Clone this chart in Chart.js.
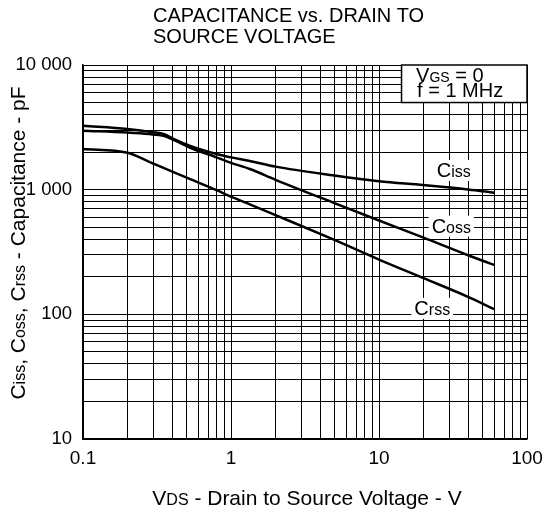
<!DOCTYPE html>
<html><head><meta charset="utf-8">
<script src="https://cdn.jsdelivr.net/npm/chart.js@4/dist/chart.umd.min.js"></script>
<style>html,body{margin:0;padding:0;background:#fff}</style>
</head><body>
<canvas id="c" width="547" height="514"></canvas>
<script>
// Drain-to-source voltage (V) sample points
const vds  = [0.1, 0.2, 0.28, 0.35, 0.42, 0.53, 0.8, 1, 1.34, 2, 5, 10, 20, 40, 60];
// Capacitances (pF)
const ciss = [3260, 3070, 2917, 2800, 2520, 2245, 1930, 1815, 1700, 1530, 1300, 1170, 1090, 1005, 946];
const coss = [2970, 2870, 2790, 2700, 2470, 2170, 1815, 1640, 1465, 1200, 780, 566, 412, 298, 249];
const crss = [2120, 1980, 1673, 1497, 1366, 1216, 990, 880, 762, 625, 395, 275, 195, 138, 110];
// Axis labels
const xMajor = [0.1, 1, 10, 100];
const xTickLabels = ['0.1', '1', '10', '100'];
const yMajor = [10, 100, 1000, 10000];
const yTickLabels = ['10', '100', '1 000', '10 000'];
const seriesNames = ['Ciss', 'Coss', 'Crss'];

const FONT = '"Liberation Sans", Arial, sans-serif';

function toXY(xs, ys) { return xs.map((x, i) => ({ x: x, y: ys[i] })); }
function decadeTicks(min, max) {
  const out = [];
  for (let d = min; d < max * 0.999; d *= 10) {
    for (let k = 1; k <= 9; k++) out.push({ value: parseFloat((k * d).toPrecision(6)) });
  }
  out.push({ value: max });
  return out;
}
function labelFor(v, majors, labels) {
  const i = majors.findIndex(m => Math.abs(m - v) / m < 1e-6);
  return i >= 0 ? labels[i] : '';
}
function richWidth(ctx, parts) {
  let w = 0;
  for (const [t, s] of parts) { ctx.font = s + 'px ' + FONT; w += ctx.measureText(t).width; }
  return w;
}
function drawRich(ctx, parts, x, y, align) {
  const w = richWidth(ctx, parts);
  let cx = align === 'center' ? x - w / 2 : (align === 'right' ? x - w : x);
  ctx.textAlign = 'left';
  ctx.textBaseline = 'alphabetic';
  for (const [t, s] of parts) {
    ctx.font = s + 'px ' + FONT;
    ctx.fillText(t, cx, y);
    cx += ctx.measureText(t).width;
  }
  return w;
}

const curveLabels = [
  { parts: [['C', 20], ['iss', 16]], v: 32, c: 1265 },
  { parts: [['C', 20], ['oss', 16]], v: 30.8, c: 452 },
  { parts: [['C', 20], ['rss', 16]], v: 22.9, c: 99 }
];

const annot = {
  id: 'annot',
  beforeDatasetsDraw(chart) {
    const { ctx, chartArea: a, scales: { x, y } } = chart;
    ctx.save();
    const bl = x.getPixelForValue(14.2), bb = y.getPixelForValue(5000);
    ctx.fillStyle = '#fff';
    ctx.fillRect(bl, a.top, a.right - bl, bb - a.top);
    ctx.strokeStyle = '#000';
    ctx.lineWidth = 1.5;
    ctx.strokeRect(bl, a.top, a.right - bl, bb - a.top);
    for (const L of curveLabels) {
      const w = richWidth(ctx, L.parts);
      const cx = x.getPixelForValue(L.v), by = y.getPixelForValue(L.c);
      ctx.fillStyle = '#fff';
      ctx.fillRect(cx - w / 2 - 3, by - 17, w + 6, 21);
    }
    ctx.restore();
  },
  afterDatasetsDraw(chart) {
    const { ctx, chartArea: a, scales: { x, y } } = chart;
    ctx.save();
    ctx.fillStyle = '#000';
    for (const L of curveLabels) {
      drawRich(ctx, L.parts, x.getPixelForValue(L.v), y.getPixelForValue(L.c), 'center');
    }
    const tl = x.getPixelForValue(17.8);
    drawRich(ctx, [['V', 20], ['GS', 14], [' = 0', 20]], tl, y.getPixelForValue(7350), 'left');
    drawRich(ctx, [['f = 1 MHz', 20]], tl + 1, y.getPixelForValue(5510), 'left');
    drawRich(ctx, [['CAPACITANCE vs. DRAIN TO', 20]], 153, 22, 'left');
    drawRich(ctx, [['SOURCE VOLTAGE', 20]], 153, 43, 'left');
    drawRich(ctx, [['V', 21], ['DS', 16], [' - Drain to Source Voltage - V', 21]], (a.left + a.right) / 2 + 2, 505, 'center');
    ctx.translate(25, (a.top + a.bottom) / 2 - 9);
    ctx.rotate(-Math.PI / 2);
    drawRich(ctx, [['C', 21], ['iss', 16], [', C', 21], ['oss', 16], [', C', 21], ['rss', 16], [' - Capacitance - pF', 21]], 0, 0, 'center');
    ctx.restore();
  }
};

const lineStyle = { borderColor: '#000', borderWidth: 2.5, pointRadius: 0, fill: false, cubicInterpolationMode: 'monotone' };

new Chart(document.getElementById('c'), {
  type: 'line',
  data: {
    datasets: [
      Object.assign({ label: seriesNames[0], data: toXY(vds, ciss) }, lineStyle),
      Object.assign({ label: seriesNames[1], data: toXY(vds, coss) }, lineStyle),
      Object.assign({ label: seriesNames[2], data: toXY(vds, crss) }, lineStyle)
    ]
  },
  options: {
    responsive: false,
    devicePixelRatio: 1,
    animation: false,
    layout: { padding: { top: 65, right: 20, left: 0, bottom: 0 } },
    plugins: { legend: { display: false }, tooltip: { enabled: false }, title: { display: false } },
    scales: {
      x: {
        type: 'logarithmic', min: 0.1, max: 100,
        afterBuildTicks: s => { s.ticks = decadeTicks(0.1, 100); },
        afterFit: s => { s.height = 75; s.paddingLeft = 0; s.paddingRight = 0; },
        grid: { color: '#000', lineWidth: 1, drawTicks: false },
        border: { display: true, color: '#000', width: 1.5 },
        ticks: {
          autoSkip: false, maxRotation: 0, padding: 8, color: '#000',
          font: { family: FONT, size: 19 },
          callback: v => labelFor(v, xMajor, xTickLabels)
        }
      },
      y: {
        type: 'logarithmic', min: 10, max: 10000,
        afterBuildTicks: s => { s.ticks = decadeTicks(10, 10000); },
        afterFit: s => { s.width = 83; s.paddingTop = 0; s.paddingBottom = 0; },
        grid: { color: '#000', lineWidth: 1, drawTicks: false },
        border: { display: true, color: '#000', width: 1.5 },
        ticks: {
          autoSkip: false, padding: 11, color: '#000',
          font: { family: FONT, size: 18.5 },
          callback: v => labelFor(v, yMajor, yTickLabels)
        }
      }
    }
  },
  plugins: [annot]
});
</script>
</body></html>
